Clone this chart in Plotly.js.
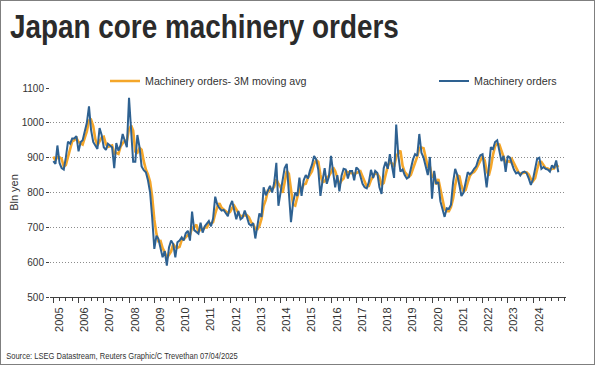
<!DOCTYPE html>
<html>
<head>
<meta charset="utf-8">
<script src="https://cdn.plot.ly/plotly-3.0.1.min.js"></script>
<style>
  html, body { margin: 0; padding: 0; background: #fff; }
  #wrap { width: 595px; height: 365px; box-sizing: border-box; border: 1px solid #7f7f7f; background: #fff; }
  #chart { width: 593px; height: 363px; }
</style>
</head>
<body>
<div id="wrap"><div id="chart"></div></div>
<script>
// Monthly data, Jan 2005 .. Jan 2025 (bln yen)
const startYear = 2005;
const machineryOrders = [
  890,882,935,885,870,866,900,946,940,955,955,962,
  918,945,950,975,1000,1047,980,945,935,925,985,965,
  930,922,940,935,930,870,942,920,935,968,945,930,
  1072,975,888,888,965,930,875,864,858,835,800,728,
  638,676,667,640,614,632,590,642,662,652,614,657,
  662,671,662,683,690,662,745,692,688,682,713,685,
  703,712,718,703,725,788,765,755,748,750,740,732,
  761,776,750,723,747,723,728,748,730,710,705,712,
  668,705,740,730,815,792,808,819,800,828,885,762,
  800,835,870,882,810,715,770,800,790,843,790,835,
  850,840,862,880,905,895,865,790,835,870,825,845,
  905,865,815,850,803,848,868,866,840,862,862,835,
  872,866,846,825,815,812,830,865,842,862,856,815,
  796,870,888,868,910,870,842,995,905,860,866,850,
  840,845,868,895,910,905,968,914,900,873,850,902,
  782,862,825,830,775,752,730,755,753,765,830,868,
  850,820,790,800,830,858,852,858,868,875,895,907,
  910,860,815,870,930,925,945,950,920,890,905,859,
  905,900,883,865,855,858,849,858,860,855,840,822,
  838,865,897,900,868,873,868,866,860,878,870,892,
  858
];
const movingAvg3M = [
  903,892,902,901,897,874,879,904,929,947,950,957,
  945,942,938,957,975,1007,1009,991,953,935,948,958,
  960,939,931,932,935,912,914,911,932,941,949,948,
  982,992,978,917,914,928,923,890,866,852,831,788,
  722,681,660,661,640,629,612,621,631,652,643,641,
  644,663,665,672,678,678,699,700,708,687,694,693,
  700,700,711,711,715,739,759,769,756,751,746,741,
  744,756,762,750,740,731,733,733,735,729,715,709,
  695,695,704,725,762,779,805,806,809,816,838,825,
  816,799,835,862,854,802,765,762,787,811,808,823,
  825,842,851,861,882,893,888,850,830,832,843,847,
  858,872,862,843,823,834,840,861,858,856,855,853,
  856,858,861,846,829,817,819,836,846,856,853,844,
  822,827,851,875,889,883,874,902,914,920,877,859,
  852,845,851,869,891,903,928,929,927,896,874,875,
  845,849,823,839,810,786,752,746,746,758,783,821,
  849,846,820,803,807,829,847,856,859,867,879,892,
  904,892,862,848,872,908,933,940,938,920,905,885,
  890,888,896,883,868,859,854,855,856,858,852,839,
  833,842,867,887,888,880,870,869,865,868,869,880,
  873
];
const yearLabels = ["2005","2006","2007","2008","2009","2010","2011","2012","2013","2014",
  "2015","2016","2017","2018","2019","2020","2021","2022","2023","2024"];
const seriesNames = ["Machinery orders- 3M moving avg", "Machinery orders"];
const titleText = "Japan core machinery orders";
const yTitle = "Bln yen";
const sourceText = "Source: LSEG Datastream, Reuters Graphic/C Trevethan 07/04/2025";

// month dates
const dates = machineryOrders.map((_, i) => {
  const y = startYear + Math.floor(i / 12);
  const m = (i % 12) + 1;
  return y + "-" + String(m).padStart(2, "0") + "-01";
});
const tickVals = yearLabels.map(y => y + "-01-01");

const FONT = "Liberation Sans, Arial, Helvetica, sans-serif";
const TXT = "#333333";

const traces = [
  { x: dates, y: movingAvg3M, type: "scatter", mode: "lines", name: seriesNames[0],
    line: { color: "#F4A62A", width: 2.6 }, legend: "legend" },
  { x: dates, y: machineryOrders, type: "scatter", mode: "lines", name: seriesNames[1],
    line: { color: "#2E6191", width: 2 }, legend: "legend2" }
];

const layout = {
  width: 593, height: 363,
  margin: { l: 49, r: 28, t: 87, b: 67, pad: 0 },
  paper_bgcolor: "#ffffff", plot_bgcolor: "#ffffff",
  font: { family: FONT, color: TXT, size: 10 },
  showlegend: true,
  title: { text: titleText, font: { family: FONT, size: 33, color: "#2b2b2b", weight: "bold" },
    xref: "container", x: 9 / 593, xanchor: "left",
    yref: "container", y: 1 - 25 / 363, yanchor: "middle" },
  xaxis: {
    type: "date", range: ["2004-11-14", "2025-04-22"],
    showgrid: false, zeroline: false,
    showline: true, linecolor: "#404040", linewidth: 1,
    tickmode: "array", tickvals: tickVals, ticktext: yearLabels,
    ticks: "outside", ticklen: 5, tickcolor: "#404040", tickwidth: 1,
    tickangle: -90, ticklabelshift: 6,
    tickfont: { family: FONT, size: 11, color: TXT },
    minor: { dtick: "M3", tick0: "2005-01-01", ticks: "outside", ticklen: 3, tickcolor: "#404040", tickwidth: 1, showgrid: false },
    fixedrange: true
  },
  yaxis: {
    range: [500, 1100], dtick: 100, tick0: 500,
    showgrid: true, gridcolor: "#8c8c8c", gridwidth: 1, griddash: "1px,2px",
    zeroline: false, showline: false,
    ticks: "outside", ticklen: 3, tickcolor: "#404040",
    tickfont: { family: FONT, size: 10, color: TXT },
    title: { text: yTitle, font: { family: FONT, size: 11, color: TXT }, standoff: 0 },
    fixedrange: true
  },
  legend: {
    x: (105 - 50) / 516, xanchor: "left", y: 1 + 7 / 209, yanchor: "middle",
    orientation: "h", bgcolor: "rgba(0,0,0,0)", borderwidth: 0,
    font: { family: FONT, size: 10.7, color: TXT }
  },
  legend2: {
    x: (434 - 50) / 516, xanchor: "left", y: 1 + 7 / 209, yanchor: "middle",
    orientation: "h", bgcolor: "rgba(0,0,0,0)", borderwidth: 0,
    font: { family: FONT, size: 10.7, color: TXT }
  },
  annotations: [
    { text: sourceText, xref: "paper", yref: "paper",
      x: (4 - 50) / 516, xanchor: "left", y: (297 - 356) / 209, yanchor: "middle",
      showarrow: false, font: { family: FONT, size: 9, color: TXT } }
  ]
};

// condense a text element horizontally (narrow-face look), anchored at its left edge
function condense(el, s) {
  if (!el) return;
  const bb = el.getBBox();
  const x0 = bb.x;
  const prev = el.getAttribute("transform") || "";
  el.setAttribute("transform", (prev + " translate(" + x0 + ",0) scale(" + s + ",1) translate(" + (-x0) + ",0)").trim());
}

Plotly.newPlot("chart", traces, layout, { staticPlot: true, displayModeBar: false }).then(gd => {
  condense(gd.querySelector(".gtitle"), 0.845);
  condense(gd.querySelector(".annotation-text"), 0.84);
});
</script>
</body>
</html>
